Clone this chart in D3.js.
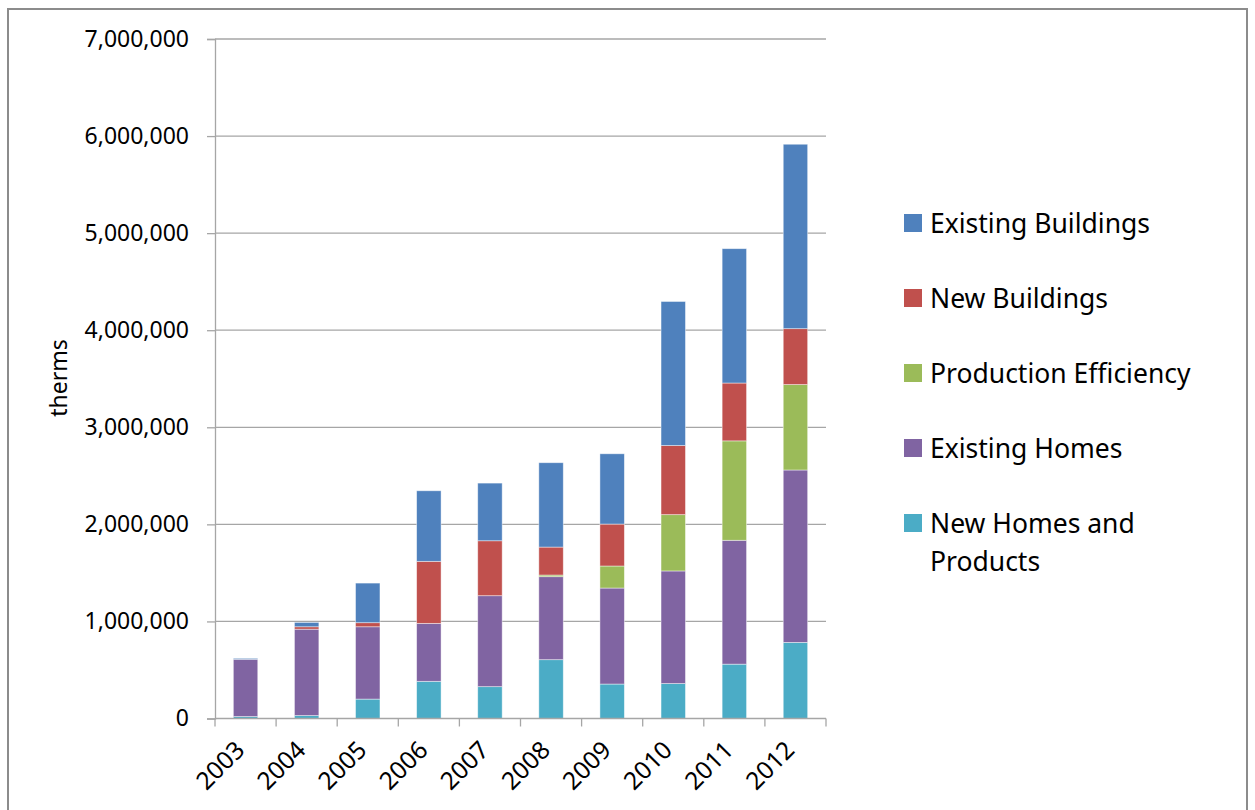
<!DOCTYPE html>
<html>
<head>
<meta charset="utf-8">
<script src="https://cdn.jsdelivr.net/npm/d3@7"></script>
<style>
  html, body { margin: 0; padding: 0; background: #fff; }
  svg { display: block; }
  text { font-family: "Noto Sans", "Open Sans", sans-serif; fill: #000; }
</style>
</head>
<body>
<svg id="chart" width="1255" height="810"></svg>
<script>
const years = ["2003","2004","2005","2006","2007","2008","2009","2010","2011","2012"];
const newHomesAndProducts = [20000, 30000, 200000, 383000, 328000, 606000, 355000, 360000, 560000, 784000];
const existingHomes       = [590000, 890000, 745000, 597000, 937000, 855000, 989000, 1160000, 1276000, 1776000];
const productionEfficiency= [0, 0, 0, 0, 0, 17000, 227000, 580000, 1024000, 880000];
const newBuildings        = [0, 25000, 42000, 639000, 566000, 288000, 432000, 712000, 596000, 576000];
const existingBuildings   = [10000, 45000, 408000, 727000, 594000, 869000, 724000, 1484000, 1384000, 1900000];
const seriesNames = ["New Homes and Products", "Existing Homes", "Production Efficiency", "New Buildings", "Existing Buildings"];
const seriesColors = ["#4BACC6", "#8064A2", "#9BBB59", "#C0504D", "#4F81BD"];
const yTicks = [0, 1000000, 2000000, 3000000, 4000000, 5000000, 6000000, 7000000];
const yTitle = "therms";

(function () {
const seriesValues = [newHomesAndProducts, existingHomes, productionEfficiency, newBuildings, existingBuildings];
const rows = years.map((yr, i) => {
  const r = { year: yr };
  seriesNames.forEach((n, k) => r[n] = seriesValues[k][i]);
  return r;
});

const svg = d3.select("#chart");

// outer chart border
svg.append("rect").attr("x", 8).attr("y", 9).attr("width", 1239).attr("height", 830)
  .attr("fill", "none").attr("stroke", "#8c8c8c").attr("stroke-width", 2);

const pLeft = 215, pRight = 826, pTop = 39, pBottom = 718.5;
const x = d3.scaleBand().domain(years).range([pLeft, pRight]).paddingInner(0.6).paddingOuter(0.3);
const y = d3.scaleLinear().domain([0, 7000000]).range([pBottom, pTop]);

// gridlines
svg.append("g").selectAll("line").data(yTicks.filter(t => t > 0)).join("line")
  .attr("x1", pLeft).attr("x2", pRight)
  .attr("y1", d => y(d)).attr("y2", d => y(d))
  .attr("stroke", "#a6a6a6").attr("stroke-width", 1.3);

// y axis
const yAxis = d3.axisLeft(y).tickValues(yTicks).tickFormat(d3.format(",")).tickSize(8).tickPadding(18);
const gy = svg.append("g").attr("transform", `translate(${pLeft},0)`).call(yAxis);
gy.select(".domain").attr("stroke", "#a6a6a6").attr("stroke-width", 1.3);
gy.selectAll(".tick line").attr("stroke", "#a6a6a6").attr("stroke-width", 1.3);
gy.selectAll(".tick text").attr("font-size", 23).attr("fill", "#000")
  .style("font-family", "'Noto Sans', sans-serif");

// stacked bars
const stacked = d3.stack().keys(seriesNames)(rows);
svg.append("g").selectAll("g").data(stacked).join("g")
  .attr("fill", (d, i) => seriesColors[i])
  .selectAll("rect").data(d => d).join("rect")
  .attr("x", d => x(d.data.year))
  .attr("width", x.bandwidth())
  .attr("y", d => y(d[1]))
  .attr("height", d => Math.max(0, y(d[0]) - y(d[1])))
  .attr("stroke", "rgba(255,255,255,0.55)").attr("stroke-width", 0.8);

// x axis line with boundary ticks
const boundaries = d3.range(years.length + 1).map(i => pLeft + i * (pRight - pLeft) / years.length);
svg.append("line").attr("x1", pLeft).attr("x2", pRight).attr("y1", pBottom).attr("y2", pBottom)
  .attr("stroke", "#a6a6a6").attr("stroke-width", 1.3);
svg.append("g").selectAll("line").data(boundaries).join("line")
  .attr("x1", d => d).attr("x2", d => d).attr("y1", pBottom).attr("y2", pBottom + 8)
  .attr("stroke", "#a6a6a6").attr("stroke-width", 1.3);

// x labels rotated
svg.append("g").selectAll("text").data(years).join("text")
  .attr("transform", d => `translate(${x(d) + x.bandwidth() / 2 + 0.5},${pBottom + 33}) rotate(-45)`)
  .attr("text-anchor", "end")
  .attr("font-size", 24.5)
  .text(d => d);

// y title
svg.append("text")
  .attr("transform", `translate(67,378) rotate(-90)`)
  .attr("text-anchor", "middle")
  .attr("font-size", 23)
  .text(yTitle);

// legend (reverse order, top = Existing Buildings)
const legendOrder = seriesNames.map((n, i) => ({ name: n, color: seriesColors[i] })).reverse();
const lg = svg.append("g");
legendOrder.forEach((d, i) => {
  const cy = 223 + i * 75;
  lg.append("rect").attr("x", 904).attr("y", cy - 9).attr("width", 18).attr("height", 18).attr("fill", d.color);
  const t = lg.append("text").attr("x", 930).attr("y", cy + 10).attr("font-size", 26.5);
  if (d.name === "New Homes and Products") {
    t.append("tspan").attr("x", 930).text("New Homes and");
    t.append("tspan").attr("x", 930).attr("dy", 38).text("Products");
  } else {
    t.text(d.name);
  }
});
})();
</script>
</body>
</html>
